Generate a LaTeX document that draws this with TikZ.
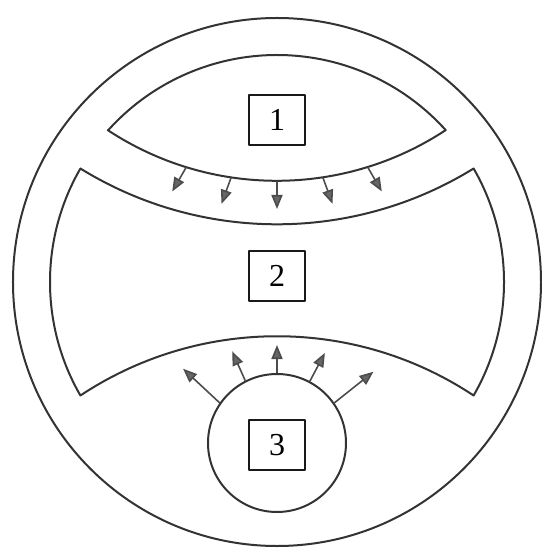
\documentclass[tikz,border=0pt]{standalone}
\usepackage{fontspec}
\setmainfont{Liberation Serif}
\usetikzlibrary{arrows.meta,calc}

\begin{document}
\begin{tikzpicture}[x=1pt,y=1pt,line width=2pt,line join=round,
  rim/.style={draw=black!80},
  flow/.style={draw=black!70,line width=1.6pt,-{Triangle[length=14pt,width=11pt,fill=black!60]}},
  numbox/.style={draw=black!90,line width=1.4pt,minimum width=56pt,minimum height=50pt,font=\fontsize{32}{36}\selectfont}]
\useasboundingbox (-277,-272) rectangle (264,282);
\draw[rim] (0,0) circle (264);
% chamber 1
\draw[rim] (138:227) arc[start angle=138,end angle=42,radius=227]
  arc[start angle=-56.6,end angle=-123.4,radius=307] -- cycle;
% chamber 2
\draw[rim] (150:227) arc[start angle=150,end angle=210,radius=227]
  arc[start angle=123.55,end angle=56.45,radius=355.75]
  arc[start angle=-30,end angle=30,radius=227]
  arc[start angle=-58.31,end angle=-121.69,radius=374.29] -- cycle;
\node[rim,circle,minimum size=138pt,inner sep=0pt] (c3) at (0,-161) {};
\node[numbox] (n1) at (0,162) {1};
\node[numbox] (n2) at (0,6) {2};
\node[numbox] (n3) at (0,-163) {3};
\coordinate (o1) at (0,408);
\foreach \a/\d [count=\i] in {-107.2/-120,-98.6/-110,-90/-90,-81.4/-70,-72.8/-60}
  \draw[flow] ($(o1)+(\a:307)$) coordinate (s\i) -- ++(\d:28) coordinate (e\i);
\foreach \a/\d/\l in {145/137/50,117/114/32,90/90/28,62/62/32,35/38.5/50}
  \draw[flow] (c3.\a) -- ++(\d:\l);
\end{tikzpicture}
\end{document}
